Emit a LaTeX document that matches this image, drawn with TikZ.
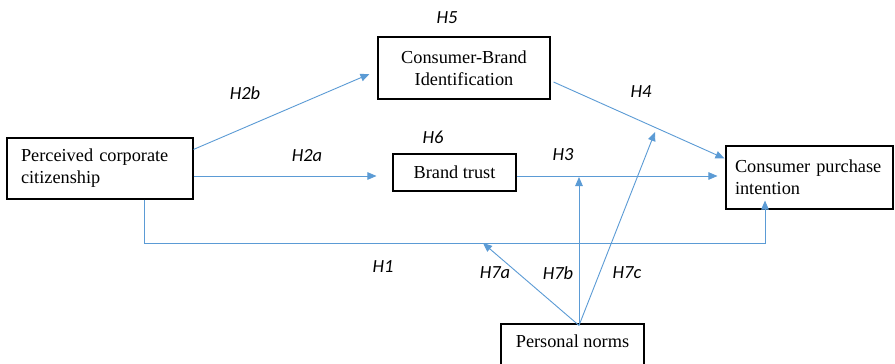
\documentclass[tikz,border=0pt]{standalone}
\usepackage{fontspec}
\setmainfont{Liberation Serif}
\newfontfamily\labelfont{Carlito}
\usetikzlibrary{arrows.meta,calc}
\definecolor{linkblue}{RGB}{91,155,213}
\tikzset{
  box/.style={draw=black, line width=1.1pt, rectangle, inner sep=0pt,
    font=\fontsize{18.3}{22}\selectfont},
  link/.style={draw=linkblue, line width=0.9pt, -{Triangle[length=9pt,width=7.5pt]}},
  hyp/.style={inner sep=0pt, font=\labelfont\itshape\fontsize{18.5}{20}\selectfont},
}
\begin{document}
\begin{tikzpicture}[x=1pt,y=-1pt]
\clip (0,0) rectangle (895,364);
\fill[white] (0,0) rectangle (895,364);

% constructs
\node[box, minimum width=186pt, minimum height=61pt, inner xsep=14pt,
  text width=158pt, align=left] (pcc) at (100,168.5) {Perceived corporate\\citizenship};
\node[box, minimum width=172pt, minimum height=62pt, align=center] (cbi) at (464,68)
  {Consumer-Brand\\Identification};
\node[box, minimum width=123pt, minimum height=37pt] (bt) at (454.5,172.5) {Brand trust};
\node[box, minimum width=167pt, minimum height=63pt, inner xsep=9pt,
  text width=149pt, align=left] (cpi) at (809.5,177.5) {\mbox{Consumer purchase}\\intention};
\node[box, minimum width=143pt, minimum height=44pt, text depth=10pt] (pn) at (572.5,346)
  {Personal norms};

% moderator paths start from one foot point
\coordinate (pnfoot) at ($(pn.north)+(6.5,2)$);
\coordinate (h1bend) at (765,243);
\coordinate (h7atip) at (483,243);
\coordinate (h7btip) at (579,177);
\coordinate (h7ctip) at (655,132);

% direct paths
\draw[link] ($(pcc.north east)+(0,12)$) -- ($(cbi.west)+(-8,6)$);
\draw[link] ($(pcc.east)+(0,7.5)$) -- ($(bt.west)+(-16,3.5)$);
\draw[link] ($(cbi.east)+(3,14)$) -- ($(cpi.north west)+(-1,13)$);
\draw[link] ($(bt.east)+(0,3.5)$) -- ($(cpi.west)+(-8,-1.5)$);
\draw[link] ([xshift=44pt]pcc.south) |- (h1bend) -- ([xshift=-44.5pt,yshift=9pt]cpi.south);

% moderation paths
\draw[link] (pnfoot) -- (h7atip);
\draw[link] (pnfoot) -- (h7btip);
\draw[link] (pnfoot) -- (h7ctip);

% hypothesis labels
\node[hyp] (l5) at (447,18) {H5};
\node[hyp] (l6) at (433,137) {H6};
\node[hyp] (l2b) at (245,93) {H2b};
\node[hyp] (l2a) at (307,156) {H2a};
\node[hyp] (l3) at (563,155) {H3};
\node[hyp] (l4) at (641,92) {H4};
\node[hyp] (l1) at (383,267) {H1};
\node[hyp] (l7a) at (495,273) {H7a};
\node[hyp] (l7b) at (558,273) {H7b};
\node[hyp] (l7c) at (627,273) {H7c};
\end{tikzpicture}
\end{document}
